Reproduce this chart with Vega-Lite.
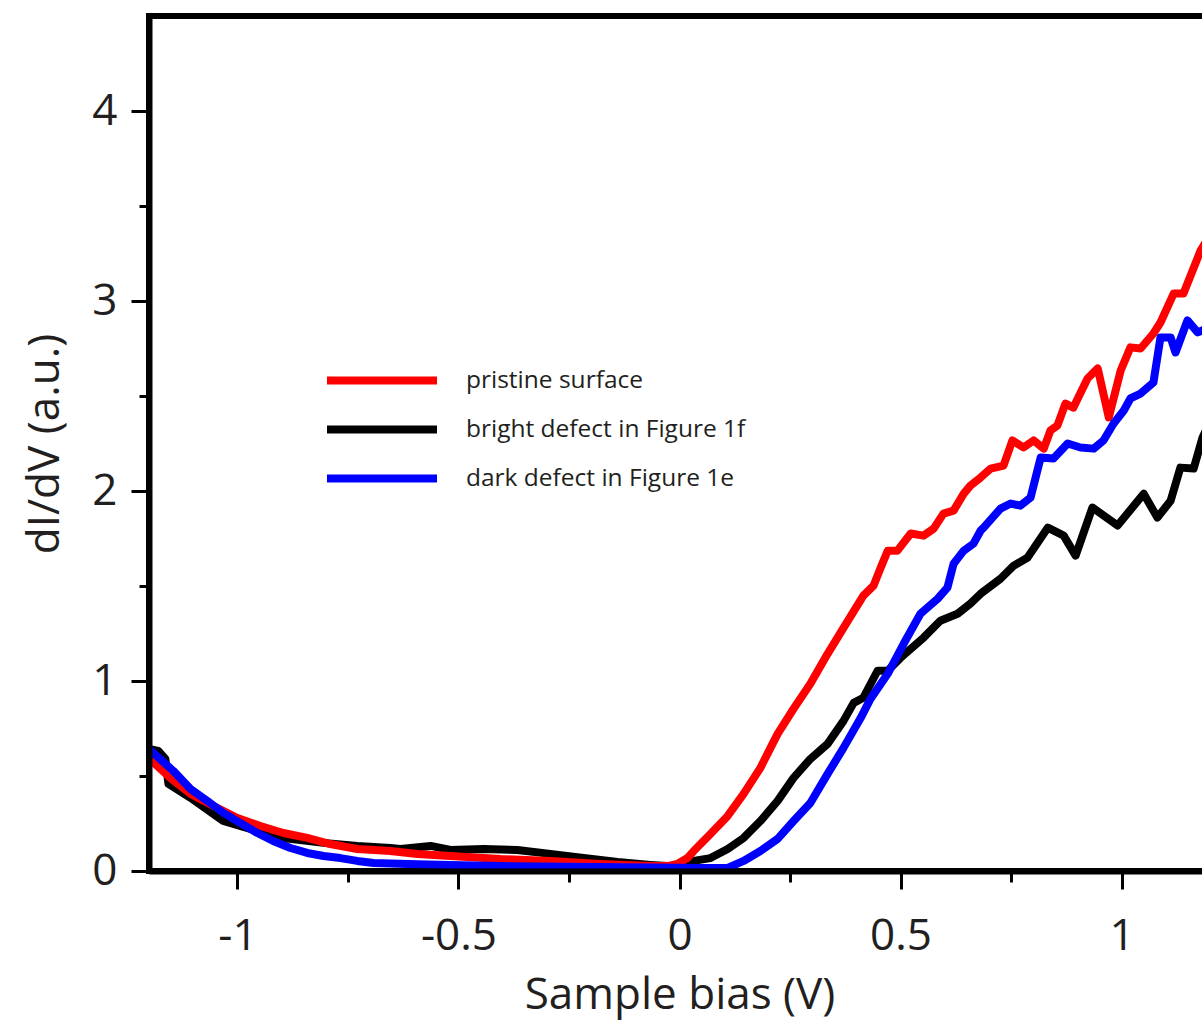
{
  "$schema": "https://vega.github.io/schema/vega-lite/v6.json",
  "width": 1061,
  "height": 855,
  "autosize": {"type": "none"},
  "padding": {"left": 149, "top": 16, "right": 0, "bottom": 150},
  "background": "white",
  "config": {"view": {"stroke": "black", "strokeWidth": 6}, "font": "Open Sans"},
  "datasets": {
    "curves": [
      {"series": "bright  defect in Figure 1f", "x": -1.201, "y": 0.643},
      {"series": "bright  defect in Figure 1f", "x": -1.179, "y": 0.632},
      {"series": "bright  defect in Figure 1f", "x": -1.163, "y": 0.59},
      {"series": "bright  defect in Figure 1f", "x": -1.156, "y": 0.458},
      {"series": "bright  defect in Figure 1f", "x": -1.106, "y": 0.385},
      {"series": "bright  defect in Figure 1f", "x": -1.032, "y": 0.263},
      {"series": "bright  defect in Figure 1f", "x": -0.971, "y": 0.221},
      {"series": "bright  defect in Figure 1f", "x": -0.896, "y": 0.174},
      {"series": "bright  defect in Figure 1f", "x": -0.805, "y": 0.148},
      {"series": "bright  defect in Figure 1f", "x": -0.729, "y": 0.132},
      {"series": "bright  defect in Figure 1f", "x": -0.654, "y": 0.121},
      {"series": "bright  defect in Figure 1f", "x": -0.631, "y": 0.116},
      {"series": "bright  defect in Figure 1f", "x": -0.563, "y": 0.132},
      {"series": "bright  defect in Figure 1f", "x": -0.518, "y": 0.111},
      {"series": "bright  defect in Figure 1f", "x": -0.443, "y": 0.116},
      {"series": "bright  defect in Figure 1f", "x": -0.367, "y": 0.111},
      {"series": "bright  defect in Figure 1f", "x": -0.292, "y": 0.09},
      {"series": "bright  defect in Figure 1f", "x": -0.217, "y": 0.068},
      {"series": "bright  defect in Figure 1f", "x": -0.14, "y": 0.047},
      {"series": "bright  defect in Figure 1f", "x": -0.066, "y": 0.032},
      {"series": "bright  defect in Figure 1f", "x": -0.027, "y": 0.026},
      {"series": "bright  defect in Figure 1f", "x": 0.018, "y": 0.026},
      {"series": "bright  defect in Figure 1f", "x": 0.032, "y": 0.053},
      {"series": "bright  defect in Figure 1f", "x": 0.07, "y": 0.068},
      {"series": "bright  defect in Figure 1f", "x": 0.109, "y": 0.116},
      {"series": "bright  defect in Figure 1f", "x": 0.145, "y": 0.174},
      {"series": "bright  defect in Figure 1f", "x": 0.183, "y": 0.263},
      {"series": "bright  defect in Figure 1f", "x": 0.222, "y": 0.369},
      {"series": "bright  defect in Figure 1f", "x": 0.258, "y": 0.49},
      {"series": "bright  defect in Figure 1f", "x": 0.296, "y": 0.59},
      {"series": "bright  defect in Figure 1f", "x": 0.335, "y": 0.669},
      {"series": "bright  defect in Figure 1f", "x": 0.371, "y": 0.79},
      {"series": "bright  defect in Figure 1f", "x": 0.394, "y": 0.885},
      {"series": "bright  defect in Figure 1f", "x": 0.416, "y": 0.912},
      {"series": "bright  defect in Figure 1f", "x": 0.448, "y": 1.054},
      {"series": "bright  defect in Figure 1f", "x": 0.471, "y": 1.054},
      {"series": "bright  defect in Figure 1f", "x": 0.5, "y": 1.122},
      {"series": "bright  defect in Figure 1f", "x": 0.552, "y": 1.228},
      {"series": "bright  defect in Figure 1f", "x": 0.59, "y": 1.317},
      {"series": "bright  defect in Figure 1f", "x": 0.629, "y": 1.354},
      {"series": "bright  defect in Figure 1f", "x": 0.658, "y": 1.407},
      {"series": "bright  defect in Figure 1f", "x": 0.681, "y": 1.459},
      {"series": "bright  defect in Figure 1f", "x": 0.726, "y": 1.538},
      {"series": "bright  defect in Figure 1f", "x": 0.756, "y": 1.607},
      {"series": "bright  defect in Figure 1f", "x": 0.787, "y": 1.649},
      {"series": "bright  defect in Figure 1f", "x": 0.833, "y": 1.807},
      {"series": "bright  defect in Figure 1f", "x": 0.869, "y": 1.765},
      {"series": "bright  defect in Figure 1f", "x": 0.896, "y": 1.66},
      {"series": "bright  defect in Figure 1f", "x": 0.934, "y": 1.913},
      {"series": "bright  defect in Figure 1f", "x": 0.991, "y": 1.818},
      {"series": "bright  defect in Figure 1f", "x": 1.05, "y": 1.986},
      {"series": "bright  defect in Figure 1f", "x": 1.081, "y": 1.86},
      {"series": "bright  defect in Figure 1f", "x": 1.111, "y": 1.949},
      {"series": "bright  defect in Figure 1f", "x": 1.133, "y": 2.123},
      {"series": "bright  defect in Figure 1f", "x": 1.163, "y": 2.118},
      {"series": "bright  defect in Figure 1f", "x": 1.183, "y": 2.281},
      {"series": "bright  defect in Figure 1f", "x": 1.201, "y": 2.37},
      {"series": "pristine surface", "x": -1.201, "y": 0.595},
      {"series": "pristine surface", "x": -1.152, "y": 0.49},
      {"series": "pristine surface", "x": -1.106, "y": 0.406},
      {"series": "pristine surface", "x": -1.054, "y": 0.342},
      {"series": "pristine surface", "x": -1.0, "y": 0.279},
      {"series": "pristine surface", "x": -0.948, "y": 0.237},
      {"series": "pristine surface", "x": -0.896, "y": 0.2},
      {"series": "pristine surface", "x": -0.842, "y": 0.174},
      {"series": "pristine surface", "x": -0.79, "y": 0.142},
      {"series": "pristine surface", "x": -0.729, "y": 0.116},
      {"series": "pristine surface", "x": -0.654, "y": 0.105},
      {"series": "pristine surface", "x": -0.593, "y": 0.09},
      {"series": "pristine surface", "x": -0.518, "y": 0.079},
      {"series": "pristine surface", "x": -0.405, "y": 0.063},
      {"series": "pristine surface", "x": -0.292, "y": 0.053},
      {"series": "pristine surface", "x": -0.179, "y": 0.037},
      {"series": "pristine surface", "x": -0.066, "y": 0.026},
      {"series": "pristine surface", "x": -0.027, "y": 0.026},
      {"series": "pristine surface", "x": -0.005, "y": 0.037},
      {"series": "pristine surface", "x": 0.018, "y": 0.068},
      {"series": "pristine surface", "x": 0.032, "y": 0.105},
      {"series": "pristine surface", "x": 0.07, "y": 0.195},
      {"series": "pristine surface", "x": 0.109, "y": 0.29},
      {"series": "pristine surface", "x": 0.145, "y": 0.406},
      {"series": "pristine surface", "x": 0.183, "y": 0.543},
      {"series": "pristine surface", "x": 0.222, "y": 0.722},
      {"series": "pristine surface", "x": 0.258, "y": 0.854},
      {"series": "pristine surface", "x": 0.296, "y": 0.985},
      {"series": "pristine surface", "x": 0.335, "y": 1.143},
      {"series": "pristine surface", "x": 0.371, "y": 1.28},
      {"series": "pristine surface", "x": 0.416, "y": 1.449},
      {"series": "pristine surface", "x": 0.439, "y": 1.502},
      {"series": "pristine surface", "x": 0.455, "y": 1.596},
      {"series": "pristine surface", "x": 0.471, "y": 1.686},
      {"series": "pristine surface", "x": 0.493, "y": 1.686},
      {"series": "pristine surface", "x": 0.523, "y": 1.776},
      {"series": "pristine surface", "x": 0.552, "y": 1.765},
      {"series": "pristine surface", "x": 0.575, "y": 1.802},
      {"series": "pristine surface", "x": 0.597, "y": 1.881},
      {"series": "pristine surface", "x": 0.62, "y": 1.897},
      {"series": "pristine surface", "x": 0.643, "y": 1.986},
      {"series": "pristine surface", "x": 0.658, "y": 2.028},
      {"series": "pristine surface", "x": 0.681, "y": 2.071},
      {"series": "pristine surface", "x": 0.704, "y": 2.118},
      {"series": "pristine surface", "x": 0.733, "y": 2.134},
      {"series": "pristine surface", "x": 0.753, "y": 2.266},
      {"series": "pristine surface", "x": 0.778, "y": 2.229},
      {"series": "pristine surface", "x": 0.801, "y": 2.266},
      {"series": "pristine surface", "x": 0.824, "y": 2.223},
      {"series": "pristine surface", "x": 0.839, "y": 2.318},
      {"series": "pristine surface", "x": 0.855, "y": 2.345},
      {"series": "pristine surface", "x": 0.873, "y": 2.46},
      {"series": "pristine surface", "x": 0.891, "y": 2.439},
      {"series": "pristine surface", "x": 0.923, "y": 2.592},
      {"series": "pristine surface", "x": 0.946, "y": 2.645},
      {"series": "pristine surface", "x": 0.971, "y": 2.387},
      {"series": "pristine surface", "x": 0.998, "y": 2.634},
      {"series": "pristine surface", "x": 1.02, "y": 2.756},
      {"series": "pristine surface", "x": 1.043, "y": 2.75},
      {"series": "pristine surface", "x": 1.072, "y": 2.829},
      {"series": "pristine surface", "x": 1.088, "y": 2.887},
      {"series": "pristine surface", "x": 1.118, "y": 3.04},
      {"series": "pristine surface", "x": 1.14, "y": 3.04},
      {"series": "pristine surface", "x": 1.179, "y": 3.267},
      {"series": "pristine surface", "x": 1.201, "y": 3.35},
      {"series": "dark defect in Figure 1e", "x": -1.201, "y": 0.643},
      {"series": "dark defect in Figure 1e", "x": -1.145, "y": 0.527},
      {"series": "dark defect in Figure 1e", "x": -1.106, "y": 0.432},
      {"series": "dark defect in Figure 1e", "x": -1.068, "y": 0.369},
      {"series": "dark defect in Figure 1e", "x": -1.032, "y": 0.306},
      {"series": "dark defect in Figure 1e", "x": -0.994, "y": 0.253},
      {"series": "dark defect in Figure 1e", "x": -0.955, "y": 0.2},
      {"series": "dark defect in Figure 1e", "x": -0.919, "y": 0.158},
      {"series": "dark defect in Figure 1e", "x": -0.88, "y": 0.121},
      {"series": "dark defect in Figure 1e", "x": -0.842, "y": 0.095},
      {"series": "dark defect in Figure 1e", "x": -0.805, "y": 0.079},
      {"series": "dark defect in Figure 1e", "x": -0.767, "y": 0.068},
      {"series": "dark defect in Figure 1e", "x": -0.729, "y": 0.053},
      {"series": "dark defect in Figure 1e", "x": -0.692, "y": 0.042},
      {"series": "dark defect in Figure 1e", "x": -0.615, "y": 0.037},
      {"series": "dark defect in Figure 1e", "x": -0.518, "y": 0.032},
      {"series": "dark defect in Figure 1e", "x": -0.405, "y": 0.026},
      {"series": "dark defect in Figure 1e", "x": -0.179, "y": 0.021},
      {"series": "dark defect in Figure 1e", "x": 0.048, "y": 0.016},
      {"series": "dark defect in Figure 1e", "x": 0.109, "y": 0.016},
      {"series": "dark defect in Figure 1e", "x": 0.145, "y": 0.053},
      {"series": "dark defect in Figure 1e", "x": 0.183, "y": 0.105},
      {"series": "dark defect in Figure 1e", "x": 0.222, "y": 0.169},
      {"series": "dark defect in Figure 1e", "x": 0.258, "y": 0.263},
      {"series": "dark defect in Figure 1e", "x": 0.296, "y": 0.358},
      {"series": "dark defect in Figure 1e", "x": 0.335, "y": 0.511},
      {"series": "dark defect in Figure 1e", "x": 0.371, "y": 0.648},
      {"series": "dark defect in Figure 1e", "x": 0.41, "y": 0.806},
      {"series": "dark defect in Figure 1e", "x": 0.432, "y": 0.906},
      {"series": "dark defect in Figure 1e", "x": 0.471, "y": 1.038},
      {"series": "dark defect in Figure 1e", "x": 0.507, "y": 1.196},
      {"series": "dark defect in Figure 1e", "x": 0.545, "y": 1.354},
      {"series": "dark defect in Figure 1e", "x": 0.584, "y": 1.433},
      {"series": "dark defect in Figure 1e", "x": 0.606, "y": 1.491},
      {"series": "dark defect in Figure 1e", "x": 0.62, "y": 1.617},
      {"series": "dark defect in Figure 1e", "x": 0.643, "y": 1.686},
      {"series": "dark defect in Figure 1e", "x": 0.665, "y": 1.723},
      {"series": "dark defect in Figure 1e", "x": 0.681, "y": 1.791},
      {"series": "dark defect in Figure 1e", "x": 0.688, "y": 1.807},
      {"series": "dark defect in Figure 1e", "x": 0.726, "y": 1.907},
      {"series": "dark defect in Figure 1e", "x": 0.749, "y": 1.934},
      {"series": "dark defect in Figure 1e", "x": 0.771, "y": 1.923},
      {"series": "dark defect in Figure 1e", "x": 0.794, "y": 1.965},
      {"series": "dark defect in Figure 1e", "x": 0.817, "y": 2.176},
      {"series": "dark defect in Figure 1e", "x": 0.846, "y": 2.171},
      {"series": "dark defect in Figure 1e", "x": 0.878, "y": 2.25},
      {"series": "dark defect in Figure 1e", "x": 0.907, "y": 2.229},
      {"series": "dark defect in Figure 1e", "x": 0.937, "y": 2.223},
      {"series": "dark defect in Figure 1e", "x": 0.959, "y": 2.266},
      {"series": "dark defect in Figure 1e", "x": 0.982, "y": 2.355},
      {"series": "dark defect in Figure 1e", "x": 1.005, "y": 2.424},
      {"series": "dark defect in Figure 1e", "x": 1.02, "y": 2.487},
      {"series": "dark defect in Figure 1e", "x": 1.043, "y": 2.513},
      {"series": "dark defect in Figure 1e", "x": 1.072, "y": 2.571},
      {"series": "dark defect in Figure 1e", "x": 1.088, "y": 2.808},
      {"series": "dark defect in Figure 1e", "x": 1.111, "y": 2.808},
      {"series": "dark defect in Figure 1e", "x": 1.122, "y": 2.729},
      {"series": "dark defect in Figure 1e", "x": 1.149, "y": 2.898},
      {"series": "dark defect in Figure 1e", "x": 1.172, "y": 2.835},
      {"series": "dark defect in Figure 1e", "x": 1.183, "y": 2.845},
      {"series": "dark defect in Figure 1e", "x": 1.201, "y": 2.87}
    ]
  },
  "data": {"name": "curves"},
  "mark": {"type": "line", "strokeWidth": 8, "clip": true, "strokeJoin": "round", "strokeCap": "butt"},
  "encoding": {
    "x": {
      "field": "x", "type": "quantitative",
      "scale": {"domain": [-1.2, 1.2], "nice": false, "zero": false},
      "axis": {
        "title": "Sample bias (V)",
        "values": [-1, -0.75, -0.5, -0.25, 0, 0.25, 0.5, 0.75, 1],
        "labelExpr": "abs(datum.value*2 - round(datum.value*2)) > 0.01 ? '' : '' + datum.value",
        "tickSize": {"condition": {"test": "abs(datum.value*2 - round(datum.value*2)) > 0.01", "value": 11}, "value": 18},
        "tickWidth": 3, "tickColor": "black",
        "domain": true, "domainWidth": 6, "domainColor": "black",
        "grid": false, "zindex": 1,
        "labelFont": "Open Sans", "labelFontSize": 44, "labelColor": "#231f20", "labelPadding": 25,
        "labelFlush": false, "labelOverlap": false,
        "titleFont": "Open Sans", "titleFontSize": 44, "titleFontWeight": "normal", "titleColor": "#231f20", "titlePadding": 15
      }
    },
    "y": {
      "field": "y", "type": "quantitative",
      "scale": {"domain": [0, 4.5], "nice": false, "zero": false},
      "axis": {
        "title": "dI/dV (a.u.)",
        "values": [0, 0.5, 1, 1.5, 2, 2.5, 3, 3.5, 4],
        "labelExpr": "abs(datum.value - round(datum.value)) > 0.01 ? '' : '' + datum.value",
        "tickSize": {"condition": {"test": "abs(datum.value - round(datum.value)) > 0.01", "value": 10}, "value": 18},
        "tickWidth": 3, "tickColor": "black",
        "domain": true, "domainWidth": 6, "domainColor": "black",
        "grid": false, "zindex": 1,
        "labelFont": "Open Sans", "labelFontSize": 44, "labelColor": "#231f20", "labelPadding": 14,
        "labelFlush": false, "labelOverlap": false,
        "titleFont": "Open Sans", "titleFontSize": 44, "titleFontWeight": "normal", "titleColor": "#231f20", "titlePadding": 24
      }
    },
    "color": {
      "field": "series", "type": "nominal",
      "scale": {
        "domain": ["pristine surface", "bright  defect in Figure 1f", "dark defect in Figure 1e"],
        "range": ["#ff0000", "#000000", "#0000ff"]
      },
      "legend": {
        "orient": "none", "legendX": 174, "legendY": 340, "title": null,
        "symbolType": "stroke", "symbolSize": 12100, "symbolStrokeWidth": 8,
        "clipHeight": 49, "rowPadding": 0, "padding": 0,
        "labelFont": "Open Sans", "labelFontSize": 24.5, "labelColor": "#231f20",
        "labelOffset": 25, "labelLimit": 600
      }
    }
  }
}
